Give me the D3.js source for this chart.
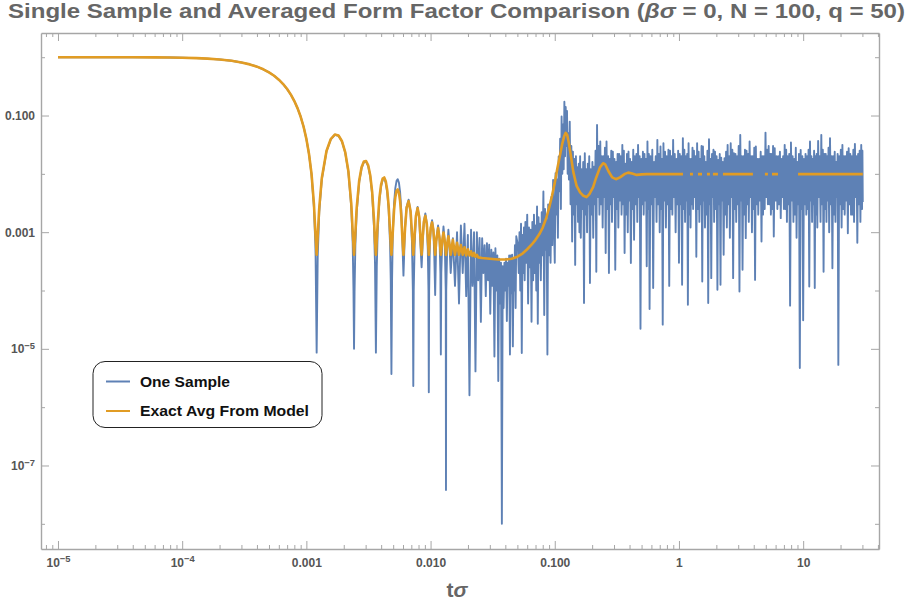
<!DOCTYPE html>
<html><head><meta charset="utf-8">
<script src="https://cdn.jsdelivr.net/npm/d3@7"></script>
<style>
html,body{margin:0;padding:0;background:#fff;}
svg{display:block;font-family:"Liberation Sans",Arial,Helvetica,sans-serif;}
</style></head><body>
<svg id="chart" width="912" height="606"></svg>
<script>
// ---------------- DATA ----------------
const titleText = "Single Sample and Averaged Form Factor Comparison";
const seriesNames = ["One Sample", "Exact Avg From Model"];
const xAxisTitle = ["t", "σ"];

const xDomain = [7.3e-6, 40.8];
const yDomain = [3.7e-9, 2.6];

const xMajorTicks = [1e-5, 1e-4, 1e-3, 1e-2, 1e-1, 1, 10];
const xTickLabels = ["10^−5", "10^−4", "0.001", "0.010", "0.100", "1", "10"];
const xMinorTicks = [8e-6, 9e-6,
  2e-5, 3e-5, 4e-5, 5e-5, 6e-5, 7e-5, 8e-5, 9e-5,
  2e-4, 3e-4, 4e-4, 5e-4, 6e-4, 7e-4, 8e-4, 9e-4,
  2e-3, 3e-3, 4e-3, 5e-3, 6e-3, 7e-3, 8e-3, 9e-3,
  0.02, 0.03, 0.04, 0.05, 0.06, 0.07, 0.08, 0.09,
  0.2, 0.3, 0.4, 0.5, 0.6, 0.7, 0.8, 0.9,
  2, 3, 4, 5, 6, 7, 8, 9, 20, 30, 40];
const yMajorTicks = [0.1, 1e-3, 1e-5, 1e-7];
const yTickLabels = ["0.100", "0.001", "10^−5", "10^−7"];
const yMinorTicks = [1, 0.01, 1e-4, 1e-6, 1e-8];

// One sample: early (lobes follow the average, dips go deep)
const sampleEarly = [[1e-5,1],[2e-5,0.9991],[4e-5,0.9964],[6e-5,0.9919],[8e-5,0.9856],[1e-4,0.9777],[1.3e-4,0.9626],[1.6e-4,0.9438],[2e-4,0.9133],[2.5e-4,0.8673],
[3e-4,0.8132],[3.5e-4,0.7531],[4e-4,0.6884],[4.5e-4,0.6204],[5e-4,0.5503],[5.5e-4,0.4805],[6e-4,0.412],[6.5e-4,0.3464],[7e-4,0.2846],[7.5e-4,0.228],
[8e-4,0.1773],[8.5e-4,0.1327],[9e-4,0.0952],[9.5e-4,0.0642],[1e-3,0.0398],[1.05e-3,0.0219],[1.1e-3,0.0097],[1.15e-3,0.0027],[1.18e-3,0.00065],[1.186e-3,0.00042],
[1.21e-3,8.6e-6],[1.234e-3,0.00038],[1.27e-3,0.00225],[1.331e-3,0.008],[1.452e-3,0.0243],[1.573e-3,0.0392],[1.694e-3,0.0468],[1.815e-3,0.045],[1.936e-3,0.0358],[2.057e-3,0.02295],
[2.178e-3,0.0108],[2.299e-3,0.00268],[2.36e-3,0.00065],[2.395e-3,0.0001],[2.42e-3,1.0e-5],[2.444e-3,0.0001],[2.48e-3,0.00059],[2.541e-3,0.00219],[2.662e-3,0.00723],[2.783e-3,0.01254],
[2.904e-3,0.0159],[3.025e-3,0.0162],[3.146e-3,0.01356],[3.267e-3,0.0091],[3.388e-3,0.00447],[3.509e-3,0.00115],[3.57e-3,0.000285],[3.63e-3,8.6e-6],[3.69e-3,0.00026],[3.751e-3,0.00101],
[3.872e-3,0.00342],[3.993e-3,0.00609],[4.114e-3,0.00793],[4.235e-3,0.00827],[4.356e-3,0.00707],[4.477e-3,0.00484],[4.598e-3,0.00242],[4.719e-3,0.00064],[4.78e-3,0.00015],[4.84e-3,3.7e-6],
[4.9e-3,0.00016],[4.961e-3,0.0009],[5.082e-3,0.0031],[5.203e-3,0.0057],[5.324e-3,0.0076],[5.445e-3,0.0081],[5.566e-3,0.007],[5.687e-3,0.0048],[5.808e-3,0.0024],[5.929e-3,0.0007]];

// One sample: dip / ramp region
const sampleRamp = [[6.05e-3,1.8e-4],[6.23e-3,0.0012],[6.41e-3,0.0027],[6.655e-3,0.0036],[6.9e-3,0.0022],[7.08e-3,0.0007],[7.2e-3,0.0001],[7.26e-3,2.3e-6],[7.32e-3,0.0001],
[7.44e-3,0.0006],[7.62e-3,0.0018],[7.865e-3,0.0027],[8.11e-3,0.0017],[8.29e-3,0.0006],[8.47e-3,2.5e-4],
[8.65e-3,0.0007],[8.83e-3,0.0015],[9.075e-3,0.0021],[9.32e-3,0.0014],[9.5e-3,0.0005],[9.62e-3,0.0001],[9.68e-3,1.8e-6],[9.74e-3,0.0001],
[9.86e-3,0.0006],[1.004e-2,0.0012],[1.0285e-2,0.0016],[1.053e-2,0.0011],[1.071e-2,0.0004],[1.089e-2,8.4e-5],
[1.11e-2,0.0007],[1.1495e-2,0.0013],[1.18e-2,0.0008],[1.2e-2,0.0002],[1.21e-2,8e-6],[1.22e-2,0.0002],
[1.24e-2,0.0006],[1.2705e-2,0.00125],[1.3e-2,0.0007],[1.325e-2,0.0001],[1.331e-2,3.8e-8],[1.337e-2,0.0001],
[1.36e-2,0.0005],[1.3915e-2,0.0011],[1.42e-2,0.0006],[1.452e-2,2e-4],
[1.5125e-2,7.9e-4],[1.573e-2,1.2e-4],[1.6335e-2,1.0e-3],[1.694e-2,6e-5],[1.7545e-2,1.3e-3],[1.815e-2,2e-4],[1.8755e-2,1.4e-3],[1.936e-2,8e-5],[1.9965e-2,9e-4],[2.057e-2,1.6e-6],
[2.1175e-2,1.1e-3],[2.178e-2,1.2e-4],[2.2385e-2,1.0e-3],[2.299e-2,4.1e-6],[2.3595e-2,1.0e-3],[2.42e-2,1.5e-4],[2.4805e-2,8e-4],[2.541e-2,2.9e-5],[2.6015e-2,7.9e-4],[2.662e-2,2e-4],
[2.7225e-2,6e-4],[2.783e-2,8e-5],[2.8435e-2,6.5e-4],[2.904e-2,1.5e-4],[2.9645e-2,6.1e-4],[3.025e-2,4e-5],[3.0855e-2,5e-4],[3.146e-2,1.2e-4],[3.2065e-2,4.5e-4],[3.267e-2,7.4e-6],
[3.3275e-2,5.3e-4],[3.388e-2,1e-4],[3.4485e-2,4e-4],[3.509e-2,2.8e-6],[3.5695e-2,3.5e-4],[3.63e-2,6e-5],[3.6905e-2,3e-4],[3.751e-2,1e-8],[3.8115e-2,2.6e-4],[3.872e-2,5e-5],
[3.9325e-2,3e-4],[3.993e-2,1e-4],[4.0535e-2,3.5e-4],[4.114e-2,3e-5],[4.1745e-2,3e-4],[4.235e-2,1.2e-4],[4.2955e-2,4e-4],[4.356e-2,8e-6],[4.4165e-2,4e-4],[4.477e-2,9e-5],
[4.5375e-2,4.1e-4],[4.598e-2,1.1e-5],[4.6585e-2,3.5e-4],[4.719e-2,1e-4],[4.7795e-2,6e-4],[4.84e-2,5e-5],[4.9005e-2,8.5e-4],
[0.0505,6e-4],[0.05125,2e-4],[0.052,1e-3],[0.05275,1e-4],[0.0535,1.4e-3],[0.05425,8.5e-6],[0.055,9e-4],[0.05575,2e-4],
[0.0565,1.2e-3],[0.05725,1.5e-4],[0.058,1.5e-3],[0.059,3e-4],[0.06,2e-3],[0.061,6e-5],[0.062,1.2e-3],[0.063,2.5e-4],
[0.064,1.1e-3],[0.065,2.9e-5],[0.066,1.5e-3],[0.067,1.5e-4],[0.068,2e-3],[0.069,2e-4],[0.07,1.3e-3],[0.071,1e-4],
[0.072,2.75e-3],[0.073,2.7e-5],[0.074,1.8e-3],[0.075,3e-4],[0.076,1.4e-3],[0.07725,1.5e-4],[0.0785,2.2e-3],[0.07975,4e-4],
[0.081,5e-3],[0.08225,3.8e-5],[0.0835,2.5e-3],[0.08475,5e-4],[0.086,1.6e-3],[0.08725,8e-6],[0.0885,3e-3],[0.08975,4e-4],
[0.091,2.75e-3],[0.0925,3e-4],[0.094,4e-3],[0.0955,6e-4],[0.097,7.9e-3]];

// One sample: plateau, t from 0.1 to 1
const samplePlateauA = [[0.1,3e-4],[0.1015,0.0103],[0.103,2e-3],[0.1045,0.008],[0.106,8e-4],[0.1075,0.0198],[0.109,5e-3],[0.1105,0.04],
[0.112,2.5e-3],[0.1135,0.096],[0.115,0.01],[0.1165,0.07],[0.118,0.012],[0.1195,0.173],[0.121,0.02],[0.1225,0.14],
[0.124,0.03],[0.1255,0.12],[0.127,0.01],[0.1285,0.05],[0.13,0.008],[0.132,0.0787],[0.134,3e-3],[0.136,0.03],
[0.138,6.9e-4],[0.14,0.0241],[0.142,2e-3],[0.144,0.018],[0.146,2.75e-4],[0.148,0.02],[0.15,3e-3],[0.152,0.013],
[0.154,1.5e-3],[0.156,0.015],[0.158,1e-3],[0.16,0.02],[0.162,8e-4],[0.1645,0.012],[0.167,2.5e-3],[0.1695,0.016],
[0.172,6.1e-5],[0.1745,0.0226],[0.177,2e-3],[0.1795,0.012],[0.182,1e-3],[0.1845,0.015],[0.187,3e-3],[0.1895,0.02],
[0.192,1.34e-4],[0.195,0.012],[0.198,2e-3],[0.201,0.016],[0.204,8e-4],[0.207,0.0133],[0.21,3e-3],[0.213,0.025],
[0.216,2.1e-4],[0.219,0.069],[0.222,4e-3],[0.2255,0.03],[0.229,2e-3],[0.2325,0.0358],[0.236,3e-3],[0.2395,0.02],
[0.243,1.2e-3],[0.2465,0.02],[0.25,4e-3],[0.2535,0.028],[0.257,4.4e-4],[0.261,0.0358],[0.265,2.5e-3],[0.269,0.02],
[0.273,2e-4],[0.277,0.018],[0.281,3e-3],[0.285,0.025],[0.289,1.5e-3],[0.2935,0.0241],[0.298,4e-3],[0.3025,0.018],
[0.307,2.26e-4],[0.3115,0.016],[0.316,2.5e-3],[0.3205,0.022],[0.325,1.2e-3],[0.33,0.022],[0.335,3.5e-3],[0.34,0.02],
[0.345,2e-3],[0.35,0.0314],[0.355,3e-3],[0.36,0.025],[0.365,4.4e-4],[0.3705,0.015],[0.376,2e-3],[0.3815,0.022],
[0.387,1e-3],[0.3925,0.0241],[0.398,3.5e-3],[0.404,0.018],[0.41,2.95e-4],[0.416,0.016],[0.422,2.5e-3],[0.4285,0.026],
[0.435,7.4e-4],[0.4415,0.02],[0.448,3e-3],[0.455,0.022],[0.462,1.5e-3],[0.4685,0.0314],[0.475,4e-3],[0.4825,0.02],
[0.49,2.2e-5],[0.4975,0.018],[0.505,3e-3],[0.5125,0.024],[0.52,2e-3],[0.5275,0.022],[0.535,3.5e-3],[0.5425,0.018],
[0.55,2.6e-4],[0.5575,0.0358],[0.565,2.5e-3],[0.5725,0.022],[0.58,4.8e-5],[0.59,0.02],[0.6,3e-3],[0.61,0.026],
[0.62,1.1e-4],[0.63,0.016],[0.64,4e-3],[0.65,0.02],[0.66,1.5e-3],[0.67,0.0383],[0.68,3e-3],[0.69,0.022],
[0.7,1e-3],[0.71,0.0294],[0.72,2.5e-3],[0.73,0.018],[0.74,2.6e-5],[0.75,0.0336],[0.76,3.5e-3],[0.7725,0.024],
[0.785,1.2e-3],[0.7975,0.02],[0.81,3e-3],[0.8225,0.026],[0.835,1.2e-4],[0.8475,0.025],[0.86,2.5e-3],[0.8725,0.02],
[0.885,2e-3],[0.8975,0.0383],[0.91,4e-3],[0.925,0.022],[0.94,1e-3],[0.955,0.018],[0.97,3e-3],[0.985,0.025]];

// One sample: plateau, t from 1 to 10
const samplePlateauB = [[1,3e-4],[1.015,0.022],[1.03,3e-3],[1.045,0.02],[1.06,1.25e-4],[1.075,0.041],[1.09,2.5e-3],[1.105,0.026],
[1.12,1.5e-3],[1.135,0.02],[1.15,3.5e-3],[1.165,0.022],[1.18,5.7e-5],[1.195,0.0336],[1.21,2e-3],[1.225,0.018],
[1.24,1.2e-3],[1.255,0.018],[1.27,3e-3],[1.285,0.028],[1.3,2.5e-3],[1.32,0.025],[1.34,4e-3],[1.36,0.02],
[1.38,3.8e-4],[1.4,0.0336],[1.42,2.5e-3],[1.44,0.024],[1.46,1.5e-3],[1.48,0.018],[1.5,3e-3],[1.52,0.03],
[1.54,1.43e-4],[1.56,0.0294],[1.58,3.5e-3],[1.6,0.02],[1.62,1.2e-3],[1.645,0.016],[1.67,2e-3],[1.695,0.025],
[1.72,6.1e-5],[1.745,0.0393],[1.77,3e-3],[1.795,0.018],[1.82,1.63e-4],[1.845,0.022],[1.87,4e-3],[1.895,0.026],
[1.92,1.5e-3],[1.95,0.0241],[1.98,2.5e-3],[2.01,0.02],[2.04,1.03e-4],[2.07,0.0174],[2.1,3e-3],[2.13,0.022],
[2.16,1.25e-4],[2.19,0.019],[2.22,3.5e-3],[2.255,0.016],[2.29,4.1e-4],[2.325,0.0186],[2.36,2e-3],[2.395,0.024],
[2.43,1.2e-3],[2.465,0.0314],[2.5,3e-3],[2.535,0.02],[2.57,8e-4],[2.61,0.0336],[2.65,4e-3],[2.69,0.026],
[2.73,1.63e-4],[2.77,0.0226],[2.81,2.5e-3],[2.85,0.022],[2.89,1.5e-3],[2.935,0.02],[2.98,3e-3],[3.025,0.03],
[3.07,9.6e-5],[3.115,0.0466],[3.16,3.5e-3],[3.205,0.02],[3.25,2.26e-4],[3.3,0.02],[3.35,2e-3],[3.4,0.026],
[3.45,7.9e-4],[3.5,0.025],[3.55,3e-3],[3.6,0.022],[3.65,1.5e-3],[3.705,0.0358],[3.76,4e-3],[3.815,0.02],
[3.87,1e-3],[3.925,0.02],[3.98,2.5e-3],[4.04,0.028],[4.1,1.52e-4],[4.16,0.0294],[4.22,3e-3],[4.285,0.018],
[4.35,2e-3],[4.415,0.018],[4.48,3.5e-3],[4.55,0.024],[4.62,6.9e-4],[4.685,0.02],[4.75,2e-3],[4.825,0.02],
[4.9,2.5e-3],[4.975,0.051],[5.05,4e-3],[5.125,0.026],[5.2,3e-3],[5.275,0.03],[5.35,3e-3],[5.425,0.022],
[5.5,2e-3],[5.575,0.022],[5.65,2.5e-3],[5.725,0.03],[5.8,8.4e-4],[5.9,0.0276],[6,3.5e-3],[6.1,0.02],
[6.2,2.5e-3],[6.3,0.02],[6.4,3e-3],[6.5,0.024],[6.6,1.74e-3],[6.7,0.018],[6.8,4e-3],[6.9,0.02],
[7,2.5e-3],[7.1,0.0314],[7.2,2.5e-3],[7.3,0.026],[7.4,1.5e-3],[7.5,0.02],[7.6,3e-3],[7.725,0.022],
[7.85,5.5e-5],[7.975,0.0344],[8.1,3.5e-3],[8.225,0.02],[8.35,1.5e-3],[8.475,0.018],[8.6,2e-3],[8.725,0.028],
[8.85,8e-4],[8.975,0.016],[9.1,3e-3],[9.25,0.022],[9.4,4.7e-6],[9.55,0.0258],[9.7,2.5e-3],[9.85,0.02]];

// One sample: plateau, t from 10 to 30
const samplePlateauC = [[10,3.1e-5],[10.15,0.018],[10.3,3e-3],[10.45,0.022],[10.6,2e-3],[10.75,0.02],[10.9,2.5e-3],[11.05,0.026],
[11.2,1.17e-4],[11.35,0.0358],[11.5,3.5e-3],[11.65,0.02],[11.8,1.5e-3],[11.95,0.018],[12.1,3e-3],[12.25,0.025],
[12.4,1.1e-4],[12.55,0.02],[12.7,2e-3],[12.85,0.022],[13,1.2e-3],[13.2,0.0368],[13.4,4e-3],[13.6,0.02],
[13.8,1.5e-3],[14,0.0466],[14.2,3e-3],[14.4,0.026],[14.6,2.1e-4],[14.8,0.022],[15,2.5e-3],[15.2,0.022],
[15.4,1.5e-3],[15.6,0.02],[15.8,3.5e-3],[16,0.028],[16.2,1e-3],[16.45,0.041],[16.7,3e-3],[16.95,0.02],
[17.2,2.4e-4],[17.45,0.02],[17.7,2e-3],[17.95,0.024],[18.2,1.5e-3],[18.45,0.016],[18.7,4e-3],[18.95,0.022],
[19.2,5.3e-6],[19.5,0.02],[19.8,3e-3],[20.1,0.026],[20.4,1.2e-3],[20.7,0.0314],[21,2.5e-3],[21.3,0.02],
[21.6,2e-3],[21.9,0.02],[22.2,3.5e-3],[22.55,0.024],[22.9,9.6e-4],[23.25,0.0276],[23.6,3e-3],[23.95,0.022],
[24.3,2e-3],[24.65,0.02],[25,2e-3],[25.35,0.026],[25.7,1.5e-3],[26.1,0.0327],[26.5,4e-3],[26.9,0.02],
[27.3,6.6e-4],[27.7,0.022],[28.1,3e-3],[28.5,0.025],[28.9,1.5e-3],[29.35,0.0314],[29.8,2.5e-3],[30,0.025],[30.2,3.3e-3]];

// Exact average from the model (null = no value drawn)
const exactAvg = [[1e-5,1],[2e-5,0.9991],[4e-5,0.9964],[6e-5,0.9919],[8e-5,0.9856],[1e-4,0.9777],[1.3e-4,0.9626],[1.6e-4,0.9438],[2e-4,0.9133],[2.5e-4,0.8673],
[3e-4,0.8132],[3.5e-4,0.7531],[4e-4,0.6884],[4.5e-4,0.6204],[5e-4,0.5503],[5.5e-4,0.4805],[6e-4,0.412],[6.5e-4,0.3464],[7e-4,0.2846],[7.5e-4,0.228],
[8e-4,0.1773],[8.5e-4,0.1327],[9e-4,0.0952],[9.5e-4,0.0642],[1e-3,0.0398],[1.05e-3,0.0219],[1.1e-3,0.0101],[1.15e-3,0.0031],[1.18e-3,0.00105],[1.21e-3,0.00041],
[1.27e-3,0.00265],[1.331e-3,0.0084],[1.452e-3,0.0247],[1.573e-3,0.0396],[1.694e-3,0.0472],[1.815e-3,0.0454],[1.936e-3,0.0362],[2.057e-3,0.0233],[2.178e-3,0.0112],[2.299e-3,0.00308],
[2.36e-3,0.00105],[2.42e-3,0.00041],[2.48e-3,0.00099],[2.541e-3,0.00259],[2.662e-3,0.00763],[2.783e-3,0.01294],[2.904e-3,0.0163],[3.025e-3,0.0166],[3.146e-3,0.014],[3.267e-3,0.0095],
[3.388e-3,0.00487],[3.509e-3,0.00155],[3.57e-3,0.000685],[3.63e-3,0.00041],[3.751e-3,0.00141],[3.872e-3,0.00382],[3.993e-3,0.00649],[4.114e-3,0.00833],[4.235e-3,0.00867],[4.356e-3,0.00747],
[4.477e-3,0.00524],[4.598e-3,0.00282],[4.719e-3,0.00104],[4.84e-3,0.00041],[4.961e-3,0.00098],[5.082e-3,0.00238],[5.203e-3,0.00399],[5.324e-3,0.00513],[5.445e-3,0.0054],[5.566e-3,0.00473],
[5.687e-3,0.0034],[5.808e-3,0.00192],[5.929e-3,0.0008],[6.05e-3,0.00041],[6.23e-3,0.00115],[6.41e-3,0.0026],[6.655e-3,0.0034],[6.9e-3,0.0023],[7.08e-3,0.001],[7.26e-3,0.00041],
[7.44e-3,0.0009],[7.62e-3,0.0019],[7.865e-3,0.0026],[8.11e-3,0.0018],[8.29e-3,0.00083],[8.47e-3,0.00041],[8.65e-3,0.00085],[8.83e-3,0.0015],[9.075e-3,0.0019],[9.32e-3,0.0014],
[9.5e-3,0.0008],[9.68e-3,0.00041],[9.86e-3,0.00075],[1.004e-2,0.0012],[1.0285e-2,0.00147],[1.053e-2,0.0011],[1.071e-2,0.0007],[1.089e-2,0.00041],[1.11e-2,0.0007],[1.1495e-2,0.00118],
[1.18e-2,0.0008],[1.21e-2,0.00041],[1.24e-2,0.0007],[1.2705e-2,0.00099],[1.3e-2,0.0007],[1.331e-2,0.00041],[1.36e-2,0.00062],[1.3915e-2,0.00085],[1.42e-2,0.00062],[1.452e-2,0.00041],
[1.5125e-2,0.00074],[1.573e-2,0.00041],[1.6335e-2,0.00066],[1.694e-2,0.00041],[1.7545e-2,0.0006],[1.815e-2,0.00041],[1.8755e-2,0.00055],[1.936e-2,0.0004],[1.9965e-2,0.00051],[2.057e-2,0.0004],
[2.1175e-2,0.00047],[2.178e-2,0.00039],[2.2385e-2,0.00044],[2.299e-2,0.00038],[2.36e-2,0.00041],[2.42e-2,0.00037],[0.026,0.00036],[0.03,0.00035],[0.035,0.00034],[0.04,0.00034],
[0.045,0.00035],[0.05,0.00038],[0.055,0.00043],[0.06,0.00051],[0.065,0.00061],[0.07,0.00074],[0.075,0.00092],[0.08,0.0012],[0.085,0.0017],[0.09,0.0026],
[0.095,0.0042],[0.1,0.007],[0.105,0.0125],[0.11,0.0205],[0.115,0.033],[0.119,0.044],[0.1225,0.0505],[0.126,0.0465],[0.13,0.033],[0.135,0.02],
[0.141,0.0108],[0.15,0.0062],[0.16,0.0048],[0.17,0.0042],[0.18,0.004],[0.19,0.0045],[0.204,0.006],[0.215,0.0085],[0.231,0.0128],[0.245,0.0152],
[0.255,0.0145],[0.27,0.0112],[0.29,0.0087],[0.311,0.0081],[0.335,0.0087],[0.367,0.01],[0.39,0.0105],[0.42,0.0101],[0.456,0.0096],[0.5,0.0098],
[0.55,0.0099],[1.077,0.0099],[1.1,null],[1.226,0.0099],[1.296,0.0099],[1.35,null],[1.422,0.0099],[1.532,0.0099],[1.6,null],[1.68,0.0099],
[1.776,0.0099],[1.83,null],[1.877,0.0099],[2.06,0.0099],[2.15,null],[2.26,0.0099],[3.94,0.0099],[4.4,null],[4.92,0.0099],[5.2,0.0099],
[5.4,null],[5.61,0.0099],[6.27,0.0099],[7.5,null],[9.1,0.0099],[30.2,0.0099]];

// ---------------- CHART ----------------
const W = 912, H = 606;
const plot = {left: 41, right: 879, top: 33, bottom: 549};
const COLORS = {sample: "#5e81b5", avg: "#e19c24", frame: "#a6a6a6", label: "#555555", title: "#666666"};

const svg = d3.select("#chart");
svg.append("rect").attr("width", W).attr("height", H).attr("fill", "#fff");

const x = d3.scaleLog().domain(xDomain).range([plot.left, plot.right]);
const y = d3.scaleLog().domain(yDomain).range([plot.bottom, plot.top]);

svg.append("defs").append("clipPath").attr("id", "clip")
  .append("rect").attr("x", plot.left).attr("y", plot.top)
  .attr("width", plot.right - plot.left).attr("height", plot.bottom - plot.top);

const line = d3.line().defined(d => d[1] != null).x(d => x(d[0])).y(d => y(d[1]));
const sampleData = sampleEarly.concat(sampleRamp, samplePlateauA, samplePlateauB, samplePlateauC);

const lines = svg.append("g").attr("clip-path", "url(#clip)");
lines.append("path").datum(sampleData).attr("d", line)
  .attr("fill", "none").attr("stroke", COLORS.sample).attr("stroke-width", 1.9)
  .attr("stroke-linejoin", "round");
lines.append("path").datum(exactAvg).attr("d", line)
  .attr("fill", "none").attr("stroke", COLORS.avg).attr("stroke-width", 2.6)
  .attr("stroke-linejoin", "round");

function supLabel(sel, labels) {
  sel.selectAll(".tick text").each(function(d, i) {
    const lab = labels[i];
    const t = d3.select(this);
    t.text(null);
    if (lab.includes("^")) {
      const [b, e] = lab.split("^");
      t.append("tspan").text(b);
      t.append("tspan").attr("dy", "-0.45em").attr("font-size", "0.78em").text(e);
    } else {
      t.text(lab);
    }
  });
}
function styleAxis(g, showDomain) {
  g.select(".domain").attr("stroke", showDomain ? COLORS.frame : "none").attr("stroke-width", 1.4);
  g.selectAll(".tick line").attr("stroke", COLORS.frame).attr("stroke-width", 1);
  g.selectAll(".tick text").attr("fill", COLORS.label).attr("font-size", 12).attr("font-weight", "bold")
    .attr("font-family", "'Liberation Sans', Arial, sans-serif");
}

// bottom
const gB = svg.append("g").attr("transform", `translate(0,${plot.bottom})`)
  .call(d3.axisBottom(x).tickValues(xMajorTicks).tickFormat((d, i) => xTickLabels[i]).tickSizeInner(-8).tickSizeOuter(0).tickPadding(9));
styleAxis(gB, true); supLabel(gB, xTickLabels);
const gBm = svg.append("g").attr("transform", `translate(0,${plot.bottom})`)
  .call(d3.axisBottom(x).tickValues(xMinorTicks).tickFormat("").tickSizeInner(-4).tickSizeOuter(0));
styleAxis(gBm, false);
// top
const gT = svg.append("g").attr("transform", `translate(0,${plot.top})`)
  .call(d3.axisTop(x).tickValues(xMajorTicks).tickFormat("").tickSizeInner(-8).tickSizeOuter(0));
styleAxis(gT, true);
const gTm = svg.append("g").attr("transform", `translate(0,${plot.top})`)
  .call(d3.axisTop(x).tickValues(xMinorTicks).tickFormat("").tickSizeInner(-4).tickSizeOuter(0));
styleAxis(gTm, false);
// left
const gL = svg.append("g").attr("transform", `translate(${plot.left},0)`)
  .call(d3.axisLeft(y).tickValues(yMajorTicks).tickFormat((d, i) => yTickLabels[i]).tickSizeInner(-8).tickSizeOuter(0).tickPadding(6));
styleAxis(gL, true); supLabel(gL, yTickLabels);
const gLm = svg.append("g").attr("transform", `translate(${plot.left},0)`)
  .call(d3.axisLeft(y).tickValues(yMinorTicks).tickFormat("").tickSizeInner(-4).tickSizeOuter(0));
styleAxis(gLm, false);
// right
const gR = svg.append("g").attr("transform", `translate(${plot.right},0)`)
  .call(d3.axisRight(y).tickValues(yMajorTicks).tickFormat("").tickSizeInner(-8).tickSizeOuter(0));
styleAxis(gR, true);
const gRm = svg.append("g").attr("transform", `translate(${plot.right},0)`)
  .call(d3.axisRight(y).tickValues(yMinorTicks).tickFormat("").tickSizeInner(-4).tickSizeOuter(0));
styleAxis(gRm, false);

// title
const title = svg.append("text").attr("x", 8).attr("y", 18)
  .attr("font-size", 20).attr("font-weight", "bold").attr("fill", COLORS.title)
  .attr("textLength", 897).attr("lengthAdjust", "spacingAndGlyphs");
title.append("tspan").text(titleText + " (");
title.append("tspan").attr("font-style", "italic").text("βσ");
title.append("tspan").text(" = 0, N = 100, q = 50)");

// x-axis title
const xt = svg.append("text").attr("x", 457).attr("y", 597).attr("text-anchor", "middle")
  .attr("font-size", 21).attr("font-weight", "bold").attr("fill", COLORS.title);
xt.append("tspan").text(xAxisTitle[0]);
xt.append("tspan").attr("font-style", "italic").text(xAxisTitle[1]);

// legend
const lg = svg.append("g");
lg.append("rect").attr("x", 93).attr("y", 361.5).attr("width", 229).attr("height", 66).attr("rx", 12)
  .attr("fill", "#fff").attr("stroke", "#222").attr("stroke-width", 1);
const legendColors = [COLORS.sample, COLORS.avg];
const legendWidths = [90, 169];
seriesNames.forEach((name, i) => {
  const yy = 381.5 + i * 29.5;
  lg.append("line").attr("x1", 106).attr("x2", 130).attr("y1", yy).attr("y2", yy)
    .attr("stroke", legendColors[i]).attr("stroke-width", 2);
  lg.append("text").attr("x", 140).attr("y", yy + 5).attr("font-size", 15).attr("font-weight", "bold")
    .attr("fill", "#111").attr("textLength", legendWidths[i]).attr("lengthAdjust", "spacingAndGlyphs").text(name);
});
</script>
</body></html>
